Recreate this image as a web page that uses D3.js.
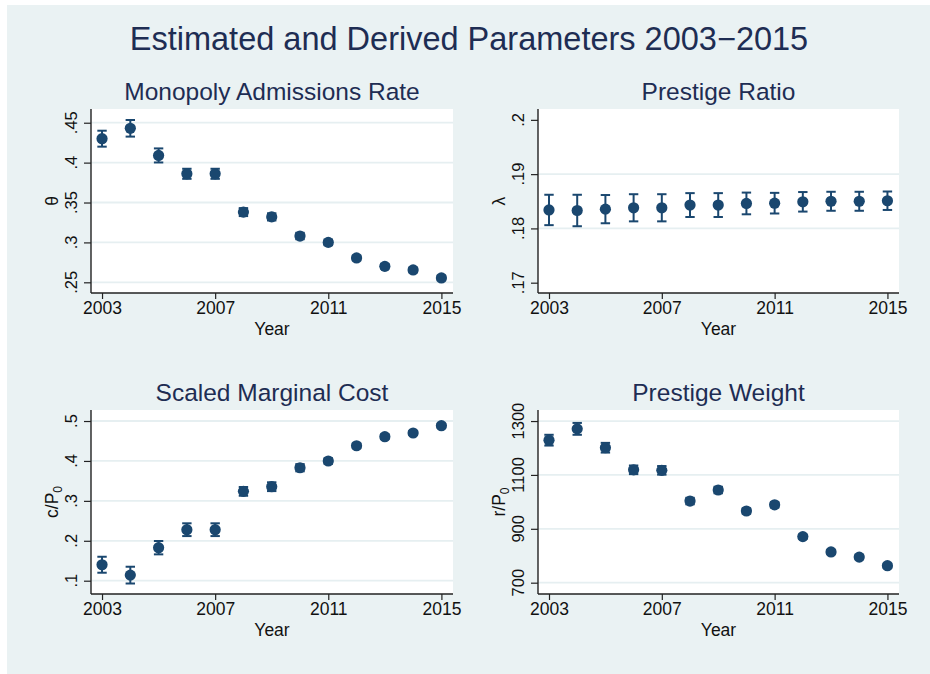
<!DOCTYPE html>
<html>
<head>
<meta charset="utf-8">
<script src="https://cdn.jsdelivr.net/npm/d3@7"></script>
<style>
  body { margin: 0; background: #fff; }
  svg text { font-family: "Liberation Sans", Arial, sans-serif; }
</style>
</head>
<body>
<svg id="chart" width="930" height="674"></svg>
<script>
// years on the x axis
const years = [2003, 2004, 2005, 2006, 2007, 2008, 2009, 2010, 2011, 2012, 2013, 2014, 2015];
const yearTicks = [2003, 2007, 2011, 2015];

// monopoly admissions rate (theta), point estimate and half-width of the interval
const thetaEst = [0.430, 0.443, 0.409, 0.386, 0.386, 0.338, 0.332, 0.308, 0.300, 0.2805, 0.270, 0.2655, 0.2555];
const thetaErr = [0.010, 0.0104, 0.0088, 0.0063, 0.0063, 0.005, 0.0045, 0.004, 0.0035, 0.003, 0.003, 0.003, 0.003];
const thetaTicks = [0.25, 0.3, 0.35, 0.4, 0.45];

// prestige ratio (lambda)
const lambdaEst = [0.1834, 0.1833, 0.18355, 0.1838, 0.1838, 0.1843, 0.1843, 0.1846, 0.18465, 0.1849, 0.1850, 0.1850, 0.1851];
const lambdaErr = [0.0028, 0.0029, 0.0026, 0.0025, 0.0025, 0.0022, 0.0022, 0.0020, 0.0019, 0.0018, 0.00175, 0.00175, 0.0017];
const lambdaTicks = [0.17, 0.18, 0.19, 0.2];

// scaled marginal cost (c/P0)
const costEst = [0.140, 0.114, 0.1827, 0.2278, 0.2278, 0.3238, 0.3355, 0.383, 0.3998, 0.438, 0.4608, 0.470, 0.4883];
const costErr = [0.020, 0.021, 0.0167, 0.016, 0.016, 0.011, 0.011, 0.009, 0.007, 0.006, 0.006, 0.005, 0.005];
const costTicks = [0.1, 0.2, 0.3, 0.4, 0.5];

// prestige weight (r/P0)
const weightEst = [1229, 1271, 1201, 1119, 1117, 1003, 1044, 966, 989, 871, 814, 795, 763];
const weightErr = [20, 22, 18, 16, 16, 12, 12, 10, 10, 8, 8, 8, 8];
const weightTicks = [700, 900, 1100, 1300];

const navy = "#1a476f";
const titleColor = "#1e2d53";
const gridColor = "#e6eff1";

const svg = d3.select("#chart");

svg.append("rect")
    .attr("x", 7).attr("y", 5)
    .attr("width", 923).attr("height", 669)
    .attr("fill", "#eaf2f3");

svg.append("text")
    .attr("x", 469).attr("y", 50)
    .attr("text-anchor", "middle")
    .attr("font-size", 32.5)
    .attr("fill", titleColor)
    .text("Estimated and Derived Parameters 2003\u22122015");

const decFmt = v => d3.format("")(v).replace(/^0\./, ".");

const panels = [
    { title: "Monopoly Admissions Rate", ytitle: ["\u03b8"], est: thetaEst, err: thetaErr,
      ticks: thetaTicks, grid: thetaTicks, domain: [0.2366, 0.4672], fmt: decFmt,
      left: 91, right: 453, top: 109, bottom: 293 },
    { title: "Prestige Ratio", ytitle: ["\u03bb"], est: lambdaEst, err: lambdaErr,
      ticks: lambdaTicks, grid: [0.18, 0.19], domain: [0.1681, 0.2020], fmt: decFmt,
      left: 538, right: 899, top: 109, bottom: 293 },
    { title: "Scaled Marginal Cost", ytitle: ["c/P", "0"], est: costEst, err: costErr,
      ticks: costTicks, grid: costTicks, domain: [0.0667, 0.5276], fmt: decFmt,
      left: 91, right: 453, top: 410, bottom: 594 },
    { title: "Prestige Weight", ytitle: ["r/P", "0"], est: weightEst, err: weightErr,
      ticks: weightTicks, grid: weightTicks, domain: [658, 1341], fmt: d3.format("d"),
      left: 538, right: 899, top: 410, bottom: 594 }
];

panels.forEach(p => {
    const g = svg.append("g");
    const x = d3.scaleLinear().domain([2002.61, 2015.41]).range([p.left, p.right]);
    const y = d3.scaleLinear().domain(p.domain).range([p.bottom, p.top]);
    const cx = (p.left + p.right) / 2;

    g.append("text")
        .attr("x", cx).attr("y", p.top - 9)
        .attr("text-anchor", "middle")
        .attr("font-size", 24.5)
        .attr("fill", titleColor)
        .text(p.title);

    g.append("rect")
        .attr("x", p.left).attr("y", p.top)
        .attr("width", p.right - p.left).attr("height", p.bottom - p.top)
        .attr("fill", "#fff");

    g.selectAll(".grid")
        .data(p.grid)
        .enter().append("line")
        .attr("x1", p.left).attr("x2", p.right)
        .attr("y1", d => y(d)).attr("y2", d => y(d))
        .attr("stroke", gridColor)
        .attr("stroke-width", 1.8);

    // y axis
    const yAxis = g.append("g")
        .attr("transform", `translate(${p.left},0)`)
        .call(d3.axisLeft(y).tickValues(p.ticks).tickSize(7).tickFormat(""));
    yAxis.select(".domain")
        .attr("d", `M0,${p.top}V${p.bottom}`)
        .attr("stroke", "#222").attr("stroke-width", 1.4);
    yAxis.selectAll(".tick line").attr("stroke", "#222").attr("stroke-width", 1.2);

    g.selectAll(".ylab")
        .data(p.ticks)
        .enter().append("text")
        .attr("transform", d => `translate(${p.left - 14},${y(d)}) rotate(-90)`)
        .attr("text-anchor", "middle")
        .attr("font-size", 16.5)
        .attr("fill", "#111")
        .text(p.fmt);

    const yt = g.append("text")
        .attr("transform", `translate(${p.left - 33},${(p.top + p.bottom) / 2}) rotate(-90)`)
        .attr("text-anchor", "middle")
        .attr("font-size", 17.5)
        .attr("fill", "#111");
    yt.append("tspan").text(p.ytitle[0]);
    if (p.ytitle[1]) {
        yt.append("tspan").attr("font-size", 12).attr("dy", 4).text(p.ytitle[1]);
    }

    // x axis
    const xAxis = g.append("g")
        .attr("transform", `translate(0,${p.bottom})`)
        .call(d3.axisBottom(x).tickValues(yearTicks).tickSize(6).tickFormat(d3.format("d")));
    xAxis.select(".domain")
        .attr("d", `M${p.left},0H${p.right}`)
        .attr("stroke", "#222").attr("stroke-width", 1.4);
    xAxis.selectAll(".tick line").attr("stroke", "#222").attr("stroke-width", 1.2);
    xAxis.selectAll(".tick text")
        .attr("y", 9)
        .attr("font-size", 17.5)
        .attr("font-family", "Liberation Sans, Arial, sans-serif")
        .attr("fill", "#111");

    g.append("text")
        .attr("x", cx).attr("y", p.bottom + 42)
        .attr("text-anchor", "middle")
        .attr("font-size", 17.5)
        .attr("fill", "#111")
        .text("Year");

    // error bars and markers
    const pts = years.map((yr, i) => ({ yr, v: p.est[i], e: p.err[i] }));
    const bars = g.selectAll(".eb").data(pts).enter().append("g")
        .attr("stroke", navy).attr("stroke-width", 2);
    bars.append("line")
        .attr("x1", d => x(d.yr)).attr("x2", d => x(d.yr))
        .attr("y1", d => y(d.v - d.e)).attr("y2", d => y(d.v + d.e));
    bars.append("line")
        .attr("x1", d => x(d.yr) - 4.7).attr("x2", d => x(d.yr) + 4.7)
        .attr("y1", d => y(d.v - d.e)).attr("y2", d => y(d.v - d.e));
    bars.append("line")
        .attr("x1", d => x(d.yr) - 4.7).attr("x2", d => x(d.yr) + 4.7)
        .attr("y1", d => y(d.v + d.e)).attr("y2", d => y(d.v + d.e));

    g.selectAll(".pt").data(pts).enter().append("circle")
        .attr("cx", d => x(d.yr)).attr("cy", d => y(d.v))
        .attr("r", 5.6)
        .attr("fill", navy);
});
</script>
</body>
</html>
